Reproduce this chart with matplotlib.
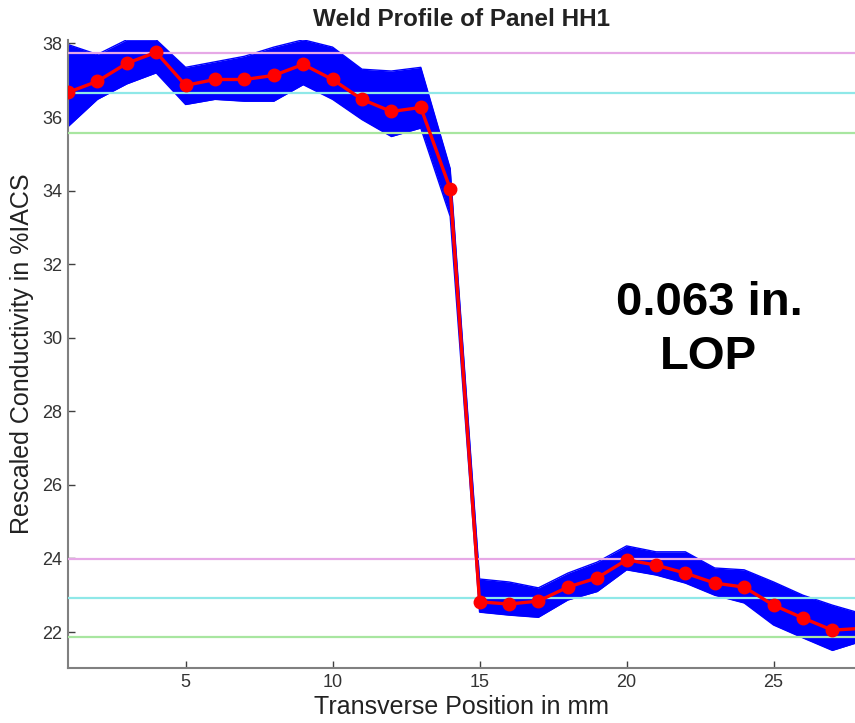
import numpy as np
import matplotlib
matplotlib.use("Agg")
import matplotlib.pyplot as plt

plt.rcParams["font.family"] = ["Liberation Sans", "DejaVu Sans"]

# transverse position (mm)
position = list(range(1, 29))

# mean weld profile (red)
mean_profile = [36.67, 36.97, 37.46, 37.76, 36.86, 37.02, 37.02, 37.13, 37.43, 37.02,
                36.48, 36.15, 36.26, 34.05, 22.82, 22.76, 22.84, 23.22, 23.47, 23.96,
                23.82, 23.60, 23.33, 23.22, 22.73, 22.38, 22.05, 22.10]

# envelope of the individual scans (blue band)
band_upper = [37.97, 37.70, 38.10, 38.10, 37.35, 37.50, 37.65, 37.90, 38.10, 37.90,
              37.30, 37.25, 37.35, 34.60, 23.44, 23.36, 23.20, 23.60, 23.90, 24.34,
              24.18, 24.18, 23.74, 23.69, 23.36, 23.00, 22.73, 22.50]
band_lower = [35.74, 36.48, 36.90, 37.20, 36.34, 36.48, 36.43, 36.43, 36.88, 36.48,
              35.93, 35.47, 35.70, 33.30, 22.54, 22.46, 22.40, 22.87, 23.10, 23.69,
              23.55, 23.33, 23.00, 22.79, 22.19, 21.84, 21.50, 21.75]

# reference lines: upper level (mean, +/- limits) and lower level
upper_levels = [37.74, 36.66, 35.57]
lower_levels = [23.98, 22.92, 21.87]
level_colors = ["#e6a8e6", "#8fe8e8", "#a8e6a0"]

fig = plt.figure(figsize=(8.55, 7.23), dpi=100)
ax = fig.add_axes([0.0795, 0.076, 0.9205, 0.869])

ax.fill_between(position, band_lower, band_upper, color="#0000ff", lw=0, zorder=2)
ax.plot(position, band_upper, color="#0000ff", lw=1.0, zorder=2)
ax.plot(position, band_lower, color="#0000ff", lw=1.0, zorder=2)

for lvl, c in zip(upper_levels, level_colors):
    ax.axhline(lvl, color=c, lw=1.6, zorder=3)
for lvl, c in zip(lower_levels, level_colors):
    ax.axhline(lvl, color=c, lw=1.6, zorder=3)

ax.plot(position, mean_profile, color="#ff0000", lw=2.4, marker="o", ms=9,
        markeredgecolor="#ff0000", zorder=4)

ax.set_xlim(1, 27.77)
ax.set_ylim(21.02, 38.1)
ax.set_xticks([5, 10, 15, 20, 25])
ax.set_yticks([22, 24, 26, 28, 30, 32, 34, 36, 38])

for s in ["top", "right"]:
    ax.spines[s].set_visible(False)
for s in ["left", "bottom"]:
    ax.spines[s].set_color("#808080")
    ax.spines[s].set_linewidth(1.5)
ax.tick_params(direction="in", length=5, width=1, color="#404040",
               labelsize=13, labelcolor="#333333", pad=4)

ax.set_title("Weld Profile of Panel HH1", fontsize=17.5, fontweight="bold",
             color="#222222", pad=10)
ax.set_xlabel("Transverse Position in mm", fontsize=18, color="#222222", labelpad=3)
ax.set_ylabel("Rescaled Conductivity in %IACS", fontsize=18, color="#222222", labelpad=6)

ax.text(22.8, 30.2, "0.063 in.\nLOP", fontsize=34, fontweight="bold",
        ha="center", va="center", linespacing=1.3, color="black")

fig.savefig("out.png", dpi=100)
